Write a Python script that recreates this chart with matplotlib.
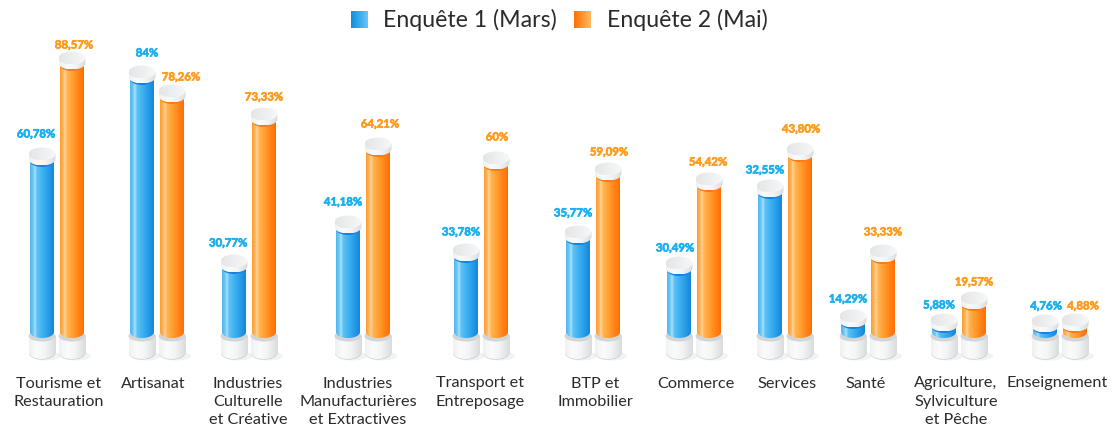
import numpy as np
import matplotlib
matplotlib.use('Agg')
import matplotlib.pyplot as plt
import matplotlib.patheffects as pe
from matplotlib.colors import LinearSegmentedColormap
from matplotlib.patches import Ellipse, Polygon

categories=['Tourisme et\nRestauration','Artisanat','Industries\nCulturelle\net Créative',
            'Industries\nManufacturières\net Extractives','Transport et\nEntreposage','BTP et\nImmobilier',
            'Commerce','Services','Santé','Agriculture,\nSylviculture\net Pêche','Enseignement']
labels1=['60,78%','84%','30,77%','41,18%','33,78%','35,77%','30,49%','32,55%','14,29%','5,88%','4,76%']
labels2=['88,57%','78,26%','73,33%','64,21%','60%','59,09%','54,42%','43,80%','33,33%','19,57%','4,88%']
## drawn heights (they do not follow the printed percentages exactly)
heights1=[184,266,77,116,88,106,75,152,22,18,17]
heights2=[280,247,224,194,180,169,159,189,87,40,18]
## layout, in pixels
centers=[57,157,249,363,481,593,694,785,868,959,1060]
cat_x=[59,153,248,358,480,595,696,787,866,956,1057]
lab1_x=[36,147,228,343,461,573,675,765,848,939,1046]
lab1_y=[134,53,243,202,232,213,248,170,299,305,306]
lab2_x=[74,181,264,380,497,609,708,801,883,974,1083]
lab2_y=[45,77,97,124,137,152,162,129,232,282,306]

plt.rcParams['font.family']=['Lato','DejaVu Sans']

blue=LinearSegmentedColormap.from_list('b',[(0,'#4fb8f0'),(0.12,'#6cc6f5'),(0.2,'#a9e0fb'),(0.3,'#5cc1f5'),(0.6,'#36abef'),(1,'#1487dc')])
orange=LinearSegmentedColormap.from_list('o',[(0,'#ff9d2c'),(0.12,'#ffb458'),(0.2,'#ffd39b'),(0.3,'#ffb350'),(0.6,'#ff9728'),(1,'#ff6d06')])
white=LinearSegmentedColormap.from_list('w',[(0,'#f0f1f2'),(0.3,'#fbfbfb'),(0.6,'#f3f4f4'),(1,'#d9dcde')])
edge=LinearSegmentedColormap.from_list('e',['#d2d4d6','#b9bcbe'])
top=LinearSegmentedColormap.from_list('t',['#e3e5e7','#f7f8f8'])
grad=np.linspace(0,1,64).reshape(1,-1)

fig=plt.figure(figsize=(11.12,4.29),dpi=100)
ax=fig.add_axes([0,0,1,1])
ax.axis('off')

def cylinder(x,ytop,ybot,w,ry,cmap,z):
	t=np.linspace(0,np.pi,40)
	xs=x+w/2*np.cos(t)
	pts=np.vstack([np.column_stack([xs[::-1],ybot-ry*np.sin(t)]),np.column_stack([xs,ytop+0*t])])
	p=Polygon(pts,closed=True,facecolor='none',edgecolor='none',zorder=z)
	ax.add_patch(p)
	im=ax.imshow(grad,extent=[x-w/2,x+w/2,ybot-ry,ytop],cmap=cmap,aspect='auto',vmin=0,vmax=1,zorder=z)
	im.set_clip_path(p)

def bar(x,h,cmap,dark):
	## shadow and base
	ax.add_patch(Ellipse((x+4,-18),30,9,color='#e9eaeb',alpha=0.6,lw=0,zorder=1))
	cylinder(x,2,-14.6,27,7,edge,2)
	cylinder(x,3,-14,27,7,white,2.5)
	ax.add_patch(Ellipse((x,2),27,11,color='#d3d6d7',lw=0,zorder=3))
	## liquid
	cylinder(x,h-7,6,24,6,cmap,4)
	ax.add_patch(Ellipse((x,h-7),24,12,color=dark,lw=0,zorder=5))
	## cap
	cylinder(x,h,h-5,27,6.5,white,6)
	e=Ellipse((x,h),27,13,facecolor='none',lw=0,zorder=7)
	ax.add_patch(e)
	im=ax.imshow(grad,extent=[x-13.5,x+13.5,h-6.5,h+6.5],cmap=top,aspect='auto',vmin=0,vmax=1,zorder=7)
	im.set_clip_path(e)

for ii in range(len(categories)):
	x1=centers[ii]-15
	x2=centers[ii]+15
	bar(x1,heights1[ii],blue,'#1c7fdc')
	bar(x2,heights2[ii],orange,'#ff7a12')
	ax.text(lab1_x[ii],338-lab1_y[ii],labels1[ii],color='#1cb0f0',fontsize=8.2,fontweight='bold',ha='center',va='center',zorder=8,
		path_effects=[pe.withStroke(linewidth=0.5,foreground='#1cb0f0')])
	ax.text(lab2_x[ii],338-lab2_y[ii],labels2[ii],color='#ff9c20',fontsize=8.2,fontweight='bold',ha='center',va='center',zorder=8,
		path_effects=[pe.withStroke(linewidth=0.5,foreground='#ff9c20')])
	ax.text(cat_x[ii],-38.5,categories[ii],color='#2b2b2b',fontsize=11.7,ha='center',va='top',linespacing=1.37)

## legend
y_leg=338-20
for x0,cmap,txt,xt in [(351,'l1','Enquête 1 (Mars)',383),(574,'l2','Enquête 2 (Mai)',607)]:
	cm=LinearSegmentedColormap.from_list(cmap,['#0d8fe0','#66c8f8'] if cmap=='l1' else ['#ff6f05','#ffb95f'])
	ax.imshow(grad,extent=[x0,x0+17,y_leg-8.5,y_leg+8.5],cmap=cm,aspect='auto')
	ax.text(xt,y_leg,txt,fontsize=16.7,color='#2b2b2b',ha='left',va='center')

ax.set_xlim(0,1112)
ax.set_ylim(-91,338)
plt.savefig('out.png',dpi=100)
